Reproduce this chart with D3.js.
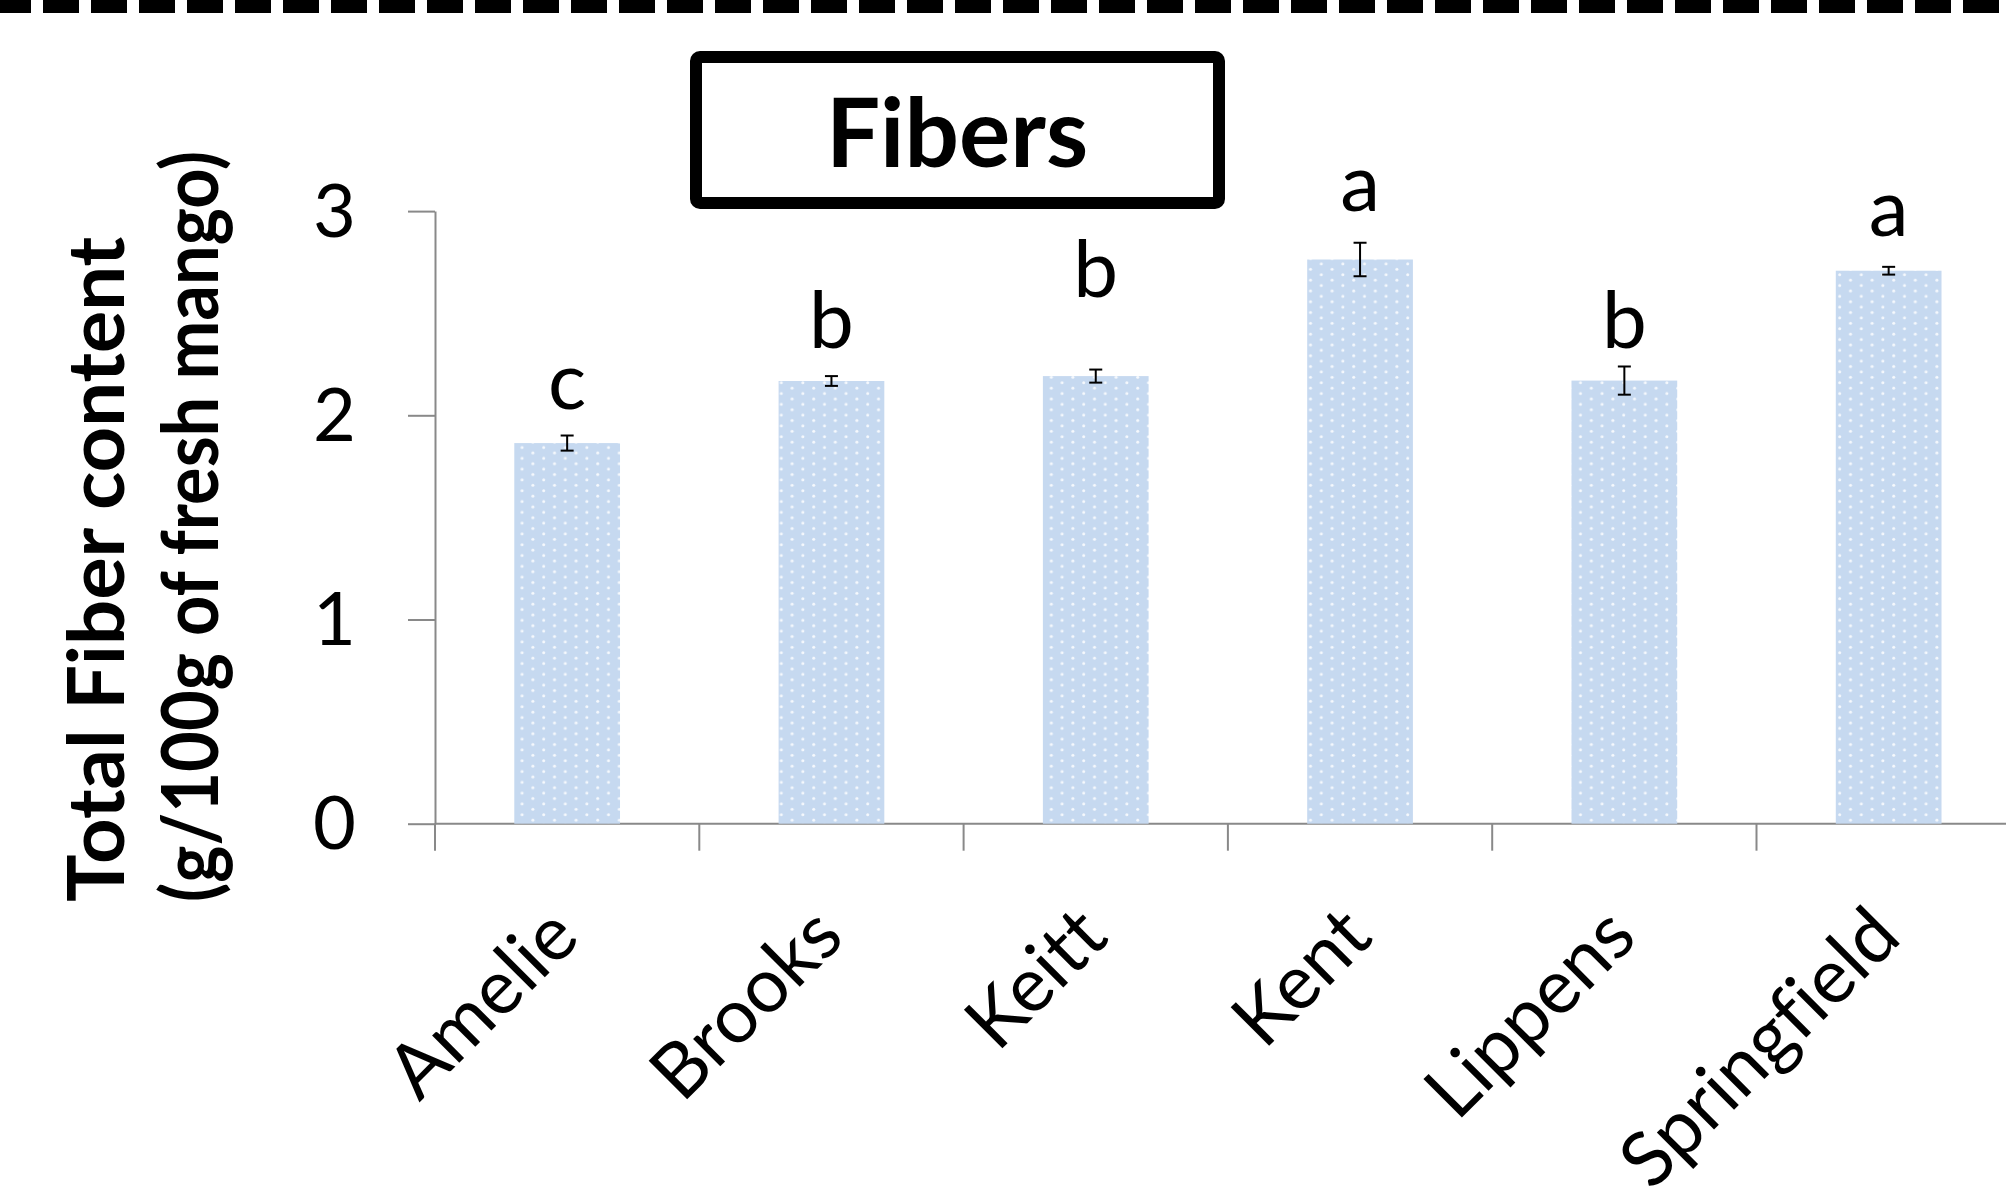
<!DOCTYPE html>
<html>
<head>
<meta charset="utf-8">
<script src="https://cdn.jsdelivr.net/npm/d3@7"></script>
<style>
  html, body { margin: 0; padding: 0; background: #fff; }
  svg { display: block; }
  text { font-variant-ligatures: none; font-feature-settings: "liga" 0; }
</style>
</head>
<body>
<div id="chart"></div>
<script>
const cultivars = ["Amelie", "Brooks", "Keitt", "Kent", "Lippens", "Springfield"];
const fiberMeans = [1.864, 2.168, 2.192, 2.763, 2.17, 2.708];
const fiberErrors = [0.037, 0.024, 0.032, 0.082, 0.069, 0.019];
const groupLetters = ["c", "b", "b", "a", "b", "a"];
// height (in g/100g) where each letter sits
const letterLevels = [2.03, 2.33, 2.58, 3.0, 2.33, 2.88];
const yTicks = [0, 1, 2, 3];

const width = 2006;
const height = 1190;
const barColor = "#c6d9f0";
const axisColor = "#898989";

const svg = d3
  .select("#chart")
  .append("svg")
  .attr("width", width)
  .attr("height", height)
  .attr("viewBox", `0 0 ${width} ${height}`);

// Excel "10%" dot pattern
const pattern = svg
  .append("defs")
  .append("pattern")
  .attr("id", "dots")
  .attr("patternUnits", "userSpaceOnUse")
  .attr("x", 1)
  .attr("y", 2)
  .attr("width", 21.6)
  .attr("height", 10.8);
pattern.append("rect").attr("width", 21.6).attr("height", 10.8).attr("fill", barColor);
pattern
  .selectAll("circle")
  .data([[2.7, 2.7], [13.5, 8.1]])
  .enter()
  .append("circle")
  .attr("cx", function(d) { return d[0]; })
  .attr("cy", function(d) { return d[1]; })
  .attr("r", 1.5)
  .attr("fill", "#f6f9fd");

// dashed separator at top
svg
  .append("line")
  .attr("x1", 0)
  .attr("x2", width)
  .attr("y1", 6)
  .attr("y2", 6)
  .attr("stroke", "#000")
  .attr("stroke-width", 14)
  .attr("stroke-dasharray", "36 12")
  .attr("stroke-dashoffset", 5);

const data = cultivars.map(function(c, i) {
  return { name: c, mean: fiberMeans[i], err: fiberErrors[i], letter: groupLetters[i], level: letterLevels[i] };
});

const x = d3
  .scaleBand()
  .domain(cultivars)
  .range([435, 435 + 6 * 264.3])
  .paddingInner(0.6)
  .paddingOuter(0.3);

const y = d3.scaleLinear().domain([0, 3]).range([823.7, 211.1]);

// y axis
const yAxis = svg
  .append("g")
  .attr("transform", "translate(435,0)")
  .call(
    d3.axisLeft(y)
      .tickValues(yTicks)
      .tickSize(27)
      .tickSizeOuter(0)
      .tickPadding(52)
      .tickFormat(d3.format("d"))
  );
yAxis.selectAll("path, line").attr("stroke", axisColor).attr("stroke-width", 2);
yAxis
  .selectAll("text")
  .attr("font-family", "Lato, sans-serif")
  .attr("font-size", 74)
  .attr("dy", "0.34em")
  .attr("fill", "#000");

// x axis line and boundary ticks
const xAxis = svg.append("g").attr("transform", "translate(0,823.7)");
xAxis
  .append("line")
  .attr("x1", 435)
  .attr("x2", width)
  .attr("stroke", axisColor)
  .attr("stroke-width", 2);
xAxis
  .selectAll(".xtick")
  .data(cultivars)
  .enter()
  .append("line")
  .attr("class", "xtick")
  .attr("x1", function(d) { return x(d) - (x.step() - x.bandwidth()) / 2; })
  .attr("x2", function(d) { return x(d) - (x.step() - x.bandwidth()) / 2; })
  .attr("y1", 0)
  .attr("y2", 27)
  .attr("stroke", axisColor)
  .attr("stroke-width", 2);

// bars
svg
  .selectAll(".bar")
  .data(data)
  .enter()
  .append("rect")
  .attr("class", "bar")
  .attr("x", function(d) { return x(d.name); })
  .attr("y", function(d) { return y(d.mean); })
  .attr("width", x.bandwidth())
  .attr("height", function(d) { return y(0) - y(d.mean); })
  .attr("fill", "url(#dots)");

// error bars
const errs = svg
  .selectAll(".err")
  .data(data)
  .enter()
  .append("g")
  .attr("class", "err")
  .attr("transform", function(d) { return "translate(" + (x(d.name) + x.bandwidth() / 2) + ",0)"; })
  .attr("stroke", "#000")
  .attr("stroke-width", 2);
errs
  .append("line")
  .attr("y1", function(d) { return y(d.mean + d.err); })
  .attr("y2", function(d) { return y(d.mean - d.err); });
errs
  .append("line")
  .attr("x1", -6.5)
  .attr("x2", 6.5)
  .attr("y1", function(d) { return y(d.mean + d.err); })
  .attr("y2", function(d) { return y(d.mean + d.err); });
errs
  .append("line")
  .attr("x1", -6.5)
  .attr("x2", 6.5)
  .attr("y1", function(d) { return y(d.mean - d.err); })
  .attr("y2", function(d) { return y(d.mean - d.err); });

// significance letters
svg
  .selectAll(".letter")
  .data(data)
  .enter()
  .append("text")
  .attr("class", "letter")
  .attr("x", function(d) { return x(d.name) + x.bandwidth() / 2; })
  .attr("y", function(d) { return y(d.level); })
  .attr("text-anchor", "middle")
  .attr("font-family", "Lato, sans-serif")
  .attr("font-size", 80)
  .text(function(d) { return d.letter; });

// category labels
svg
  .selectAll(".cat")
  .data(cultivars)
  .enter()
  .append("text")
  .attr("class", "cat")
  .attr("transform", function(d) {
    return "translate(" + (x(d) + x.bandwidth() / 2 + 15) + ",940) rotate(-45)";
  })
  .attr("text-anchor", "end")
  .attr("font-family", "Lato, sans-serif")
  .attr("font-size", 76)
  .text(function(d) { return d; });

// y axis title
svg
  .append("text")
  .attr("transform", "translate(124,902) rotate(-90)")
  .attr("font-family", "Lato, sans-serif")
  .attr("font-weight", "bold")
  .attr("font-size", 78)
  .attr("textLength", 665)
  .attr("lengthAdjust", "spacingAndGlyphs")
  .text("Total Fiber content");
svg
  .append("text")
  .attr("transform", "translate(218,902) rotate(-90)")
  .attr("font-family", "Lato, sans-serif")
  .attr("font-weight", "bold")
  .attr("font-size", 78)
  .attr("textLength", 751)
  .attr("lengthAdjust", "spacingAndGlyphs")
  .text("(g/100g of fresh mango)");

// title box
svg
  .append("rect")
  .attr("x", 696)
  .attr("y", 57)
  .attr("width", 523)
  .attr("height", 146)
  .attr("rx", 4)
  .attr("fill", "#fff")
  .attr("stroke", "#000")
  .attr("stroke-width", 12);
svg
  .append("text")
  .attr("x", 957)
  .attr("y", 167)
  .attr("text-anchor", "middle")
  .attr("font-family", "Lato, sans-serif")
  .attr("font-weight", "bold")
  .attr("font-size", 96)
  .text("Fibers");
</script>
</body>
</html>
